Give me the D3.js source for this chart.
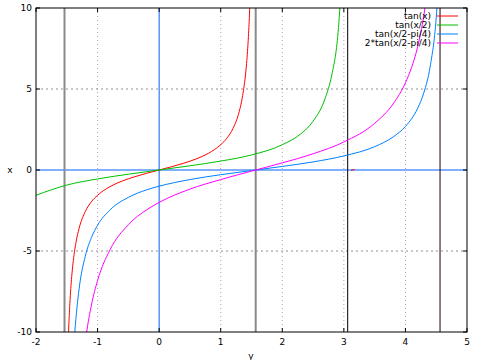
<!DOCTYPE html>
<html><head><meta charset="utf-8">
<script src="https://cdn.jsdelivr.net/npm/d3@7"></script>
<style>body{margin:0;background:#fff}svg{display:block}text{font-family:"DejaVu Sans",sans-serif;font-size:9px;fill:#000}</style>
</head><body><svg id="c" width="480" height="360"></svg>
<script>
const xTicks=[-2,-1,0,1,2,3,4,5];
const yTicks=[-10,-5,0,5,10];
const seriesNames=["tan(x)","tan(x/2)","tan(x/2-pi/4)","2*tan(x/2-pi/4)"];
const seriesColors=["#ff0000","#00c000","#0080ff","#ff00ff"];
// tan(x)
const tanX=[[-1.5,-14.1],[-1.47,-9.89],[-1.45,-8.24],[-1.42,-6.58],[-1.4,-5.80],[-1.35,-4.46],[-1.3,-3.60],[-1.2,-2.57],[-1.1,-1.96],[-1.0,-1.56],[-0.8,-1.03],[-0.6,-0.68],[-0.4,-0.42],[-0.2,-0.20],[0,0],[0.2,0.20],[0.4,0.42],[0.6,0.68],[0.8,1.03],[1.0,1.56],[1.1,1.96],[1.2,2.57],[1.3,3.60],[1.35,4.46],[1.4,5.80],[1.42,6.58],[1.45,8.24],[1.47,9.89],[1.5,14.1]];
const tanXb=[[3.115,-0.027],[3.175,0.033]];
// tan(x/2)
const tanHalf=[[-2,-1.56],[-1.5,-0.93],[-1,-0.55],[-0.5,-0.26],[0,0],[0.5,0.26],[1,0.55],[1.5,0.93],[2,1.56],[2.3,2.23],[2.5,3.01],[2.7,4.46],[2.8,5.80],[2.9,8.24],[3.0,14.1]];
// tan(x/2-pi/4)
const tanShift=[[-1.4,-11.6],[-1.37,-10.0],[-1.3,-7.34],[-1.2,-5.33],[-1.1,-4.17],[-1.0,-3.41],[-0.8,-2.47],[-0.5,-1.69],[-0.2,-1.22],[0,-1.0],[0.5,-0.59],[1.0,-0.29],[1.5,-0.035],[2.0,0.22],[2.5,0.50],[3.0,0.87],[3.5,1.44],[3.8,2.04],[4.0,2.69],[4.2,3.82],[4.3,4.78],[4.4,6.35],[4.5,9.38],[4.55,12.3]];
// 2*tan(x/2-pi/4)
const tanShift2=[[-1.2,-10.7],[-1.18,-10.1],[-1.1,-8.34],[-1.0,-6.82],[-0.8,-4.94],[-0.5,-3.38],[-0.2,-2.45],[0,-2.0],[0.5,-1.18],[1.0,-0.59],[1.5,-0.07],[2.0,0.44],[2.5,1.0],[3.0,1.73],[3.5,2.88],[3.8,4.08],[4.0,5.38],[4.1,6.33],[4.2,7.63],[4.3,9.56],[4.35,10.9]];
const jumpX=[-1.537,1.568,3.062,4.562];
const jumpColor=["#8a8a8a","#8a8a8a","#000","#200000"];
const jumpW=[2,2,1,1];

const svg=d3.select("#c");
const L=36,R=467,T=8,B=332;
const x=d3.scaleLinear().domain([-2,5]).range([L,R]);
const y=d3.scaleLinear().domain([-10,10]).range([B,T]);
svg.append("defs").append("clipPath").attr("id","clip").append("rect").attr("x",L).attr("y",T).attr("width",R-L).attr("height",B-T);

// grid
svg.append("g").selectAll("line").data(xTicks.filter(d=>d!==-2&&d!==5&&d!==0)).join("line")
 .attr("x1",d=>x(d)).attr("x2",d=>x(d)).attr("y1",T).attr("y2",B)
 .attr("stroke","#c890c8").attr("stroke-dasharray","1,3");
svg.append("g").selectAll("line").data(yTicks.filter(d=>d!==-10&&d!==10&&d!==0)).join("line")
 .attr("x1",L).attr("x2",R).attr("y1",d=>y(d)).attr("y2",d=>y(d))
 .attr("stroke","#909090").attr("stroke-dasharray","2,3");

// zero axes
svg.append("line").attr("x1",L).attr("x2",R).attr("y1",y(0)).attr("y2",y(0)).attr("stroke","#0060ff");
svg.append("line").attr("x1",x(0)).attr("x2",x(0)).attr("y1",T).attr("y2",B).attr("stroke","#0060ff");

const g=svg.append("g").attr("clip-path","url(#clip)");
g.selectAll("line.j").data(jumpX).join("line").attr("class","j")
 .attr("x1",d=>x(d)).attr("x2",d=>x(d)).attr("y1",T).attr("y2",B)
 .attr("stroke",(d,i)=>jumpColor[i]).attr("stroke-width",(d,i)=>jumpW[i]);

const line=d3.line().x(d=>x(d[0])).y(d=>y(d[1])).curve(d3.curveMonotoneX);
const curves=[[tanX,0],[tanXb,0],[tanHalf,1],[tanShift,2],[tanShift2,3]];
g.selectAll("path.c").data(curves).join("path").attr("class","c")
 .attr("d",d=>line(d[0])).attr("fill","none").attr("stroke",d=>seriesColors[d[1]]).attr("stroke-width",1);

// border
svg.append("rect").attr("x",L).attr("y",T).attr("width",R-L).attr("height",B-T).attr("fill","none").attr("stroke","#000");
// ticks
svg.append("g").selectAll("text").data(xTicks).join("text")
 .attr("x",d=>x(d)).attr("y",345).attr("text-anchor","middle").text(d=>d);
svg.append("g").selectAll("text").data(yTicks).join("text")
 .attr("x",32).attr("y",d=>y(d)+3).attr("text-anchor","end").text(d=>d);
svg.append("g").selectAll("line").data(xTicks).join("line")
 .attr("x1",d=>x(d)).attr("x2",d=>x(d)).attr("y1",B).attr("y2",B-4).attr("stroke","#000");
svg.append("g").selectAll("line").data(xTicks).join("line")
 .attr("x1",d=>x(d)).attr("x2",d=>x(d)).attr("y1",T).attr("y2",T+4).attr("stroke","#000");
svg.append("g").selectAll("line").data(yTicks).join("line")
 .attr("x1",L).attr("x2",L+4).attr("y1",d=>y(d)).attr("y2",d=>y(d)).attr("stroke","#000");
svg.append("g").selectAll("line").data(yTicks).join("line")
 .attr("x1",R).attr("x2",R-4).attr("y1",d=>y(d)).attr("y2",d=>y(d)).attr("stroke","#000");
// axis labels
svg.append("text").attr("x",10).attr("y",173).attr("text-anchor","middle").text("x");
svg.append("text").attr("x",251).attr("y",359).attr("text-anchor","middle").text("y");
// legend
const lg=svg.append("g").selectAll("g").data(seriesNames).join("g")
 .attr("transform",(d,i)=>`translate(0,${16+i*9})`);
lg.append("text").attr("x",431).attr("y",3).attr("text-anchor","end").text(d=>d);
lg.append("line").attr("x1",437).attr("x2",458).attr("y1",0).attr("y2",0).attr("stroke",(d,i)=>seriesColors[i]);
</script></body></html>
